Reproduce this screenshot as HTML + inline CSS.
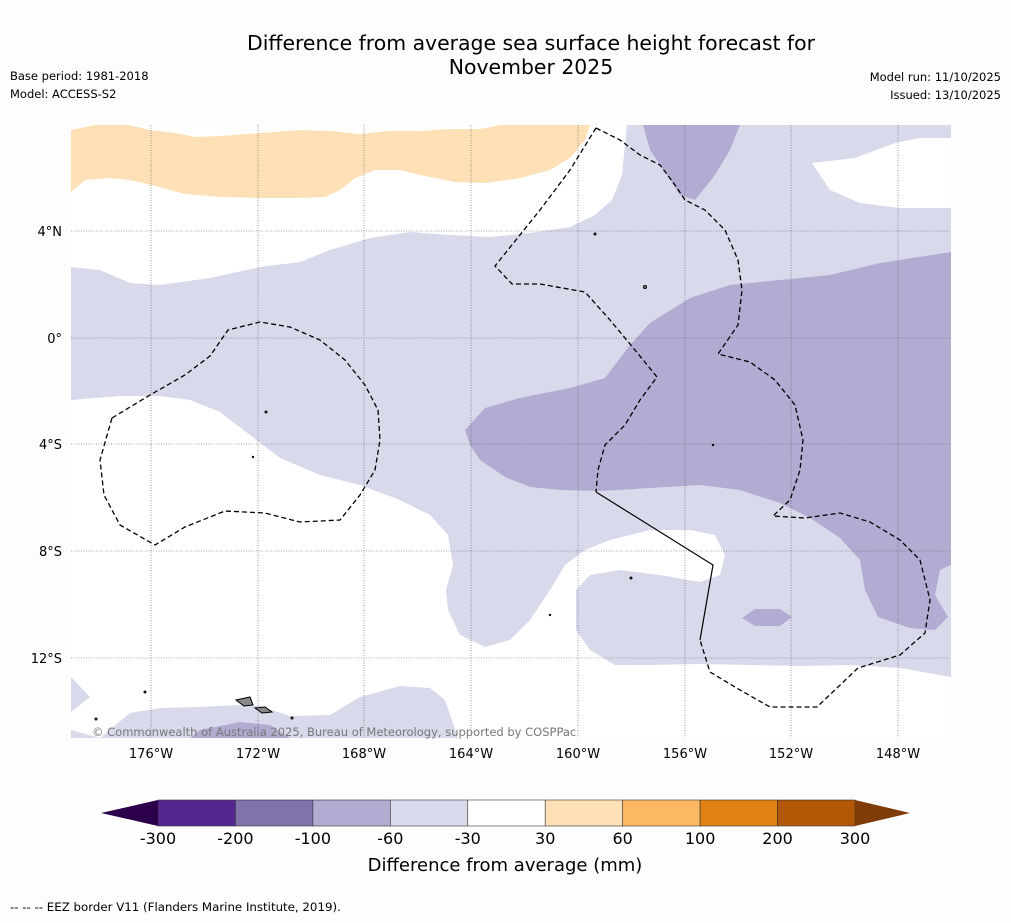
<!DOCTYPE html>
<html><head><meta charset="utf-8"><style>
body{margin:0;background:#fdfdfd;font-family:"DejaVu Sans",sans-serif;}
svg text{font-family:"DejaVu Sans",sans-serif;}
</style></head><body>
<svg width="1011" height="919" viewBox="0 0 1011 919" xmlns="http://www.w3.org/2000/svg">
<rect width="1011" height="919" fill="#fdfdfd"/>
<text x="531" y="50" font-size="20.4" text-anchor="middle">Difference from average sea surface height forecast for</text>
<text x="531" y="74" font-size="20.4" text-anchor="middle">November 2025</text>
<text x="10" y="80" font-size="11.5">Base period: 1981-2018</text>
<text x="10" y="98" font-size="11.5">Model: ACCESS-S2</text>
<text x="1001" y="81" font-size="11.5" text-anchor="end">Model run: 11/10/2025</text>
<text x="1001" y="99" font-size="11.5" text-anchor="end">Issued: 13/10/2025</text>

<g>
<clipPath id="mc"><rect x="71" y="125" width="880" height="613"/></clipPath>
<g clip-path="url(#mc)">
<rect x="71" y="125" width="880" height="613" fill="#fff"/>
<polygon fill="#fee0b6" points="71,130 95,125 128,125 150,130 175,133 195,137 220,136 260,133 300,130 330,131 360,134 390,131 420,131 450,129 480,129 500,125 590,125 585,140 570,158 550,170 520,178 485,183 455,182 420,175 400,170 375,170 355,178 340,190 325,197 300,198 260,198 220,197 185,194 155,186 130,180 110,178 85,180 71,192"/>
<polygon fill="#d8daeb" points="71,267 100,270 130,283 160,285 210,278 260,267 300,262 330,250 370,238 410,232 450,235 490,237 530,233 570,227 595,215 612,200 622,175 627,125 951,125 951,677 900,668 850,665 800,666 750,665 700,664 650,665 615,665 590,650 576,630 576,590 590,575 620,570 660,575 700,582 720,575 725,555 715,535 690,530 650,530 610,540 585,550 565,565 550,590 530,620 510,640 485,647 460,635 448,610 446,590 453,565 448,535 430,515 400,500 360,485 320,475 280,458 250,435 220,412 190,400 160,396 120,396 71,400"/>
<polygon fill="#fff" points="812,163 855,158 895,143 920,138 951,138 951,208 900,208 860,203 830,190"/>
<polygon fill="#d8daeb" points="71,677 90,697 71,712"/>
<polygon fill="#d8daeb" points="71,730 100,738 130,713 160,708 200,707 240,705 260,706 290,716 330,715 360,697 400,686 430,688 445,700 458,738 71,738"/>
<polygon fill="#b2abd2" points="643,125 740,125 730,150 715,175 695,200 680,195 665,172 650,150"/>
<polygon fill="#b2abd2" points="465,430 485,408 520,398 570,388 605,378 630,345 650,323 690,298 730,285 780,280 830,275 880,263 951,252 951,565 940,570 935,595 948,617 935,630 910,628 878,617 865,590 860,560 840,538 810,518 780,503 740,490 700,485 650,488 600,491 560,490 530,487 505,477 480,460 470,445"/>
<polygon fill="#b2abd2" points="742,618 755,609 780,609 792,617 780,626 755,626"/>
<polygon fill="#b2abd2" points="200,730 240,722 270,725 290,738 190,738"/>
<g stroke="#555" stroke-width="0.6" stroke-dasharray="1,1.5" fill="none">
<line x1="151" y1="125" x2="151" y2="738"/><line x1="258" y1="125" x2="258" y2="738"/><line x1="364" y1="125" x2="364" y2="738"/><line x1="471" y1="125" x2="471" y2="738"/><line x1="578" y1="125" x2="578" y2="738"/><line x1="685" y1="125" x2="685" y2="738"/><line x1="791" y1="125" x2="791" y2="738"/><line x1="898" y1="125" x2="898" y2="738"/>
<line x1="71" y1="231" x2="951" y2="231"/><line x1="71" y1="338" x2="951" y2="338"/><line x1="71" y1="444" x2="951" y2="444"/><line x1="71" y1="551" x2="951" y2="551"/><line x1="71" y1="658" x2="951" y2="658"/>
</g>
<g fill="none" stroke="#000" stroke-width="1.3" stroke-dasharray="5,3">
<polyline points="112,418 150,395 185,375 210,356 228,330 260,322 290,327 320,340 345,360 365,385 378,410 380,440 375,470 360,495 340,520 300,522 265,513 225,511 185,527 155,545 120,525 104,495 100,460 112,418"/>
<polyline points="596,128 570,170 540,210 495,266 512,284 540,284 585,292 610,320 635,350 657,377 640,400 625,425 605,445 598,470 596,492"/>
<polyline points="596,128 620,140 640,155 660,165 675,185 685,200 705,210 725,230 738,260 742,290 738,325 718,354 750,362 775,380 795,405 803,440 800,470 790,500 773,516 805,518 840,513 870,522 900,540 920,560 930,600 925,633 900,655 858,668 817,707 770,707 740,690 710,672 700,640"/>
</g>
<polyline fill="none" stroke="#000" stroke-width="1.2" points="596,492 713,565 700,640"/>
<g fill="#888" stroke="#000" stroke-width="1">
<polygon points="236,700 250,697 253,705 244,706"/><polygon points="255,708 265,707 272,712 262,713"/>
<circle cx="266" cy="412" r="1"/><circle cx="645" cy="287" r="1.5"/><circle cx="595" cy="234" r="1"/><circle cx="145" cy="692" r="1"/><circle cx="96" cy="719" r="1"/><circle cx="292" cy="718" r="1"/><circle cx="631" cy="578" r="1"/><circle cx="550" cy="615" r="0.7"/><circle cx="253" cy="457" r="0.7"/><circle cx="713" cy="445" r="0.7"/>
</g>
</g>
<text x="92" y="736" font-size="11.5" fill="#777">© Commonwealth of Australia 2025, Bureau of Meteorology, supported by COSPPac</text>
</g>
<g font-size="13">
<text x="62" y="236" text-anchor="end">4°N</text><text x="62" y="343" text-anchor="end">0°</text><text x="62" y="449" text-anchor="end">4°S</text><text x="62" y="556" text-anchor="end">8°S</text><text x="62" y="663" text-anchor="end">12°S</text>
<text x="151" y="758" text-anchor="middle">176°W</text><text x="258" y="758" text-anchor="middle">172°W</text><text x="364" y="758" text-anchor="middle">168°W</text><text x="471" y="758" text-anchor="middle">164°W</text><text x="578" y="758" text-anchor="middle">160°W</text><text x="685" y="758" text-anchor="middle">156°W</text><text x="791" y="758" text-anchor="middle">152°W</text><text x="898" y="758" text-anchor="middle">148°W</text>
</g>
<g id="cbar"></g>
<text x="505" y="871" font-size="18" text-anchor="middle">Difference from average (mm)</text>
<text x="10" y="911" font-size="11.8">--  --  -- EEZ border V11 (Flanders Marine Institute, 2019).</text>
</svg>
<script>
const levels=[-300,-200,-100,-60,-30,30,60,100,200,300];
const colors=["#54278f","#8073ac","#b2abd2","#d8daeb","#ffffff","#fee0b6","#fdb863","#e08214","#b35806"];
const g=document.getElementById('cbar');const NS="http://www.w3.org/2000/svg";
const x0=158,x1=855,y=800,h=26,w=(x1-x0)/colors.length;
colors.forEach((c,i)=>{const r=document.createElementNS(NS,'rect');
r.setAttribute('x',x0+i*w);r.setAttribute('y',y);r.setAttribute('width',w);r.setAttribute('height',h);r.setAttribute('fill',c);r.setAttribute('stroke','#333');r.setAttribute('stroke-width','0.6');


g.appendChild(r);});
[["#2d004b",`${x0},${y} ${x0},${y+h} 101,${y+h/2}`],["#7f3b08",`${x1},${y} ${x1},${y+h} 910,${y+h/2}`]].forEach(([c,p])=>{const t=document.createElementNS(NS,'polygon');t.setAttribute('points',p);t.setAttribute('fill',c);


g.appendChild(t);});
levels.forEach((v,i)=>{const t=document.createElementNS(NS,'text');t.setAttribute('x',x0+i*w);t.setAttribute('y',844);t.setAttribute('font-size','16');t.setAttribute('text-anchor','middle');t.textContent=v;


g.appendChild(t);});
</script>
</body></html>
